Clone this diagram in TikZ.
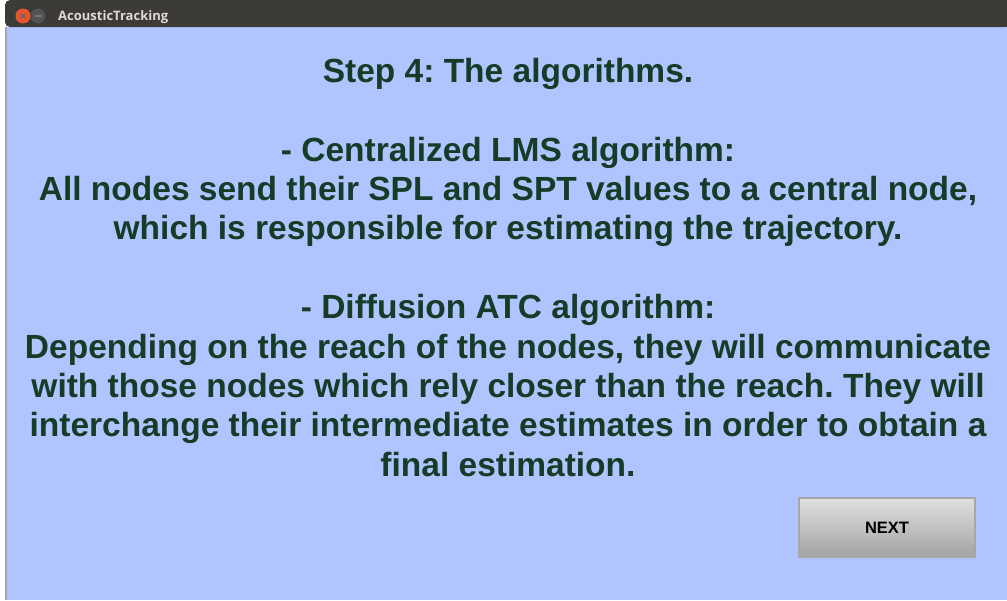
\documentclass[tikz,border=0pt]{standalone}
\usepackage{fontspec}
\setmainfont{Liberation Sans}
\newfontfamily\barfont{Open Sans}
\usepackage{tikz}
\frenchspacing

\definecolor{winblue}{RGB}{176,196,255}
\definecolor{msggreen}{RGB}{22,60,40}
\definecolor{bardark}{RGB}{60,59,55}
\definecolor{bartext}{RGB}{223,219,210}
\definecolor{closered}{RGB}{232,86,48}

\begin{document}
\begin{tikzpicture}[x=1pt,y=-1pt,
    line/.style={anchor=base, text=msggreen, font=\fontsize{33.5}{38}\selectfont\bfseries, inner sep=0pt},
    btn/.style={minimum width=176pt, minimum height=59pt, inner sep=0pt,
        top color=gray!25, bottom color=gray!72, draw=gray!70, line width=1.2pt,
        font=\fontsize{16.5}{19}\selectfont\bfseries}]
    \useasboundingbox (0,0) rectangle (1007,600);
    % window
    \fill[white] (0,0) rectangle (1007,600);
    \fill[winblue] (5,27) rectangle (1007,600);
    \fill[gray!70] (5,27) rectangle (7,600);
    \fill[bardark, rounded corners=5pt] (5,0) -- (1007,0) -- (1007,27) -- (5,27) -- cycle;
    \fill[bardark] (900,0) rectangle (1007,27);
    \fill[closered] (23,16) circle (7.5);
    \draw[black!60, line width=1.2pt] (20.5,13.5) -- (25.5,18.5) (20.5,18.5) -- (25.5,13.5);
    \fill[gray!65!black] (38,16) circle (7.5);
    \draw[black!55, line width=1.5pt] (34.5,16) -- (41.5,16);
    \node[anchor=base west, inner sep=0pt, text=bartext, font=\barfont\fontsize{13}{15}\selectfont\bfseries] (bar) at (58,20) {AcousticTracking};
    % message
    \node[line] (title) at (508,82) {Step 4: The algorithms.};
    \node[line] (lms) at (508,161) {- Centralized LMS algorithm:};
    \node[line] (lmsa) at (508,200) {All nodes send their SPL and SPT values to a central node,};
    \node[line] (lmsb) at (508,239.5) {which is responsible for estimating the trajectory.};
    \node[line] (atc) at (508,318.5) {- Diffusion ATC algorithm:};
    \node[line] (atca) at (508,358) {Depending on the reach of the nodes, they will communicate};
    \node[line] (atcb) at (508,397) {with those nodes which rely closer than the reach. They will};
    \node[line] (atcc) at (508,436.5) {interchange their intermediate estimates in order to obtain a};
    \node[line] (atcd) at (508,476) {final estimation.};
    % button
    \node[btn] (next) at (887,527.5) {NEXT};
\end{tikzpicture}
\end{document}
